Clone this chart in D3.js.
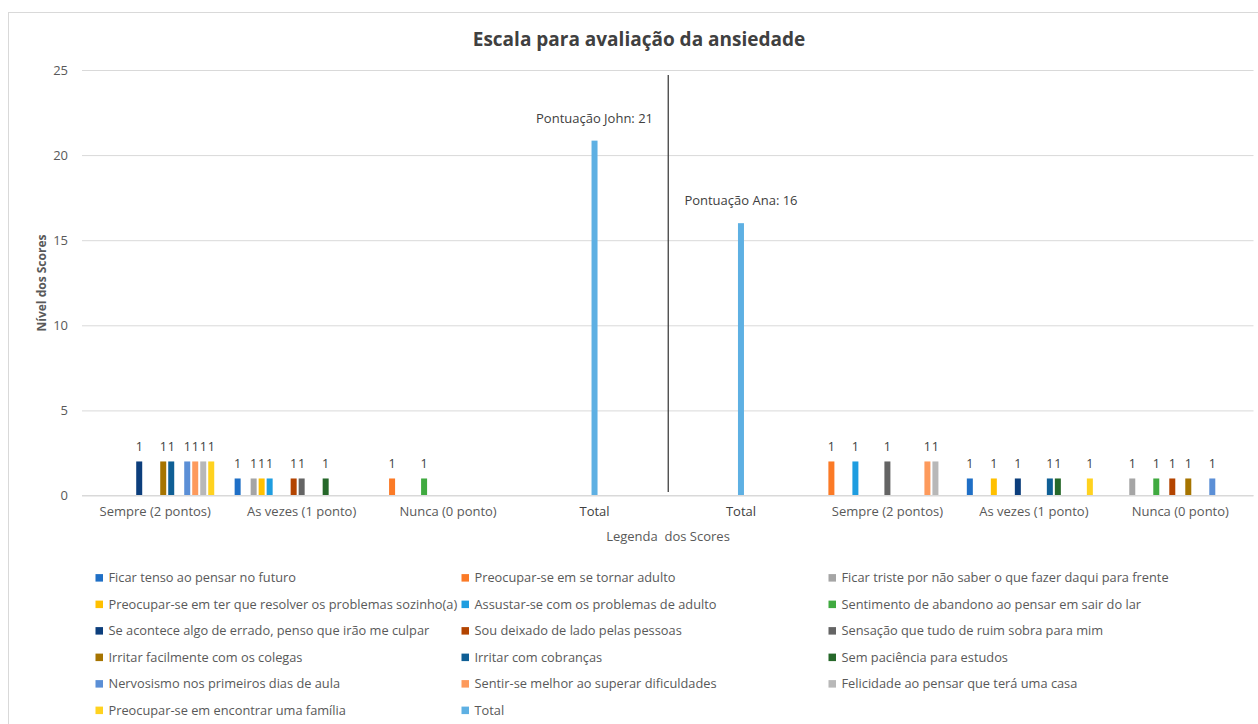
<!DOCTYPE html>
<html>
<head>
<meta charset="utf-8">
<script src="https://cdnjs.cloudflare.com/ajax/libs/d3/7.8.5/d3.min.js"></script>
<style>
body { margin: 0; background: #fff; }
text { font-family: "Open Sans", sans-serif; fill: #595959; }
</style>
</head>
<body>
<svg id="chart" width="1258" height="724"></svg>
<script>

var categories = ['Sempre (2 pontos)', 'As vezes (1 ponto)', 'Nunca (0 ponto)', 'Total',
                  'Total', 'Sempre (2 pontos)', 'As vezes (1 ponto)', 'Nunca (0 ponto)'];

var seriesNames = [
    'Ficar tenso ao pensar no futuro',
    'Preocupar-se em se tornar adulto',
    'Ficar triste por não saber o que fazer daqui para frente',
    'Preocupar-se em ter que resolver os problemas sozinho(a)',
    'Assustar-se com os problemas de adulto',
    'Sentimento de abandono ao pensar em sair do lar',
    'Se acontece algo de errado, penso que irão me culpar',
    'Sou deixado de lado pelas pessoas',
    'Sensação que tudo de ruim sobra para mim',
    'Irritar facilmente com os colegas',
    'Irritar com cobranças',
    'Sem paciência para estudos',
    'Nervosismo nos primeiros dias de aula',
    'Sentir-se melhor ao superar dificuldades',
    'Felicidade ao pensar que terá uma casa',
    'Preocupar-se em encontrar uma família',
    'Total'
];

var seriesColors = ['#1f6fc6', '#fb7a26', '#a5a5a5', '#ffc000', '#1e9de0', '#40aa40',
                    '#0c3e7c', '#b34400', '#646464', '#a67400', '#0f5f95', '#26682a',
                    '#5b8fd6', '#fd9a5c', '#b8b8b8', '#ffd21f', '#5eb0e3'];

// one array per series, one value per category (null = no bar)
var s01 = [null, 1, null, null, null, null, 1, null];
var s02 = [null, null, 1, null, null, 2, null, null];
var s03 = [null, 1, null, null, null, null, null, 1];
var s04 = [null, 1, null, null, null, null, 1, null];
var s05 = [null, 1, null, null, null, 2, null, null];
var s06 = [null, null, 1, null, null, null, null, 1];
var s07 = [2, null, null, null, null, null, 1, null];
var s08 = [null, 1, null, null, null, null, null, 1];
var s09 = [null, 1, null, null, null, 2, null, null];
var s10 = [2, null, null, null, null, null, null, 1];
var s11 = [2, null, null, null, null, null, 1, null];
var s12 = [null, 1, null, null, null, null, 1, null];
var s13 = [2, null, null, null, null, null, null, 1];
var s14 = [2, null, null, null, null, 2, null, null];
var s15 = [2, null, null, null, null, 2, null, null];
var s16 = [2, null, null, null, null, null, 1, null];
var s17 = [null, null, null, 20.85, 16, null, null, null];

var seriesValues = [s01, s02, s03, s04, s05, s06, s07, s08, s09,
                    s10, s11, s12, s13, s14, s15, s16, s17];

// data label shown over every item bar (each item counted once)
var itemCount = 1;
var totalLabels = ['Pontuação John: 21', 'Pontuação Ana: 16'];
var yTicks = [0, 5, 10, 15, 20, 25];

var TOTAL = 16;

var svg = d3.select('#chart');

// chart border
svg.append('rect')
    .attr('x', 8.5).attr('y', 12.5)
    .attr('width', 1300).attr('height', 800)
    .style('fill', 'none')
    .style('stroke', '#d9d9d9');

var plot = { left: 82, right: 1253.5, top: 70, bottom: 495.5 };

var x = d3.scaleBand()
    .domain(d3.range(categories.length))
    .range([plot.left, plot.right]);

var xs = d3.scaleBand()
    .domain(d3.range(seriesNames.length))
    .range([0, x.bandwidth()])
    .paddingInner(0.25)
    .paddingOuter(0.775);

var y = d3.scaleLinear()
    .domain([0, 25])
    .range([plot.bottom, plot.top]);

// gridlines
var grid = svg.append('g')
    .attr('transform', 'translate(' + plot.left + ',0)')
    .call(d3.axisLeft(y).tickValues(yTicks).tickSize(-(plot.right - plot.left)).tickFormat(''));
grid.select('.domain').remove();
grid.selectAll('line').style('stroke', '#d9d9d9');

// y labels
var yAxis = svg.append('g')
    .attr('transform', 'translate(' + plot.left + ',0)')
    .call(d3.axisLeft(y).tickValues(yTicks).tickSize(0).tickPadding(14));
yAxis.select('.domain').remove();
yAxis.selectAll('text')
    .style('font-size', '13px')
    .style('fill', '#595959');

// x labels
var xAxis = svg.append('g')
    .attr('transform', 'translate(0,' + plot.bottom + ')')
    .call(d3.axisBottom(x).tickSize(0).tickPadding(11).tickFormat(function(d) {
        return categories[d];
    }));
xAxis.select('.domain').remove();
xAxis.selectAll('text')
    .style('font-size', '13px')
    .style('fill', function(d) {
        return categories[d] === 'Total' ? '#404040' : '#595959';
    });

// flatten to bars
var bars = [];
for (var i = 0; i < seriesValues.length; i++) {
    for (var j = 0; j < categories.length; j++) {
        if (seriesValues[i][j] === null) { continue; }
        bars.push({ s: i, c: j, val: seriesValues[i][j] });
    }
}

function barX(d) {
    if (d.s === TOTAL) {
        return x(d.c) + (x.bandwidth() - xs.bandwidth()) / 2;
    }
    return x(d.c) + xs(d.s);
}

svg.append('g').selectAll('rect')
    .data(bars)
    .enter().append('rect')
        .attr('x', barX)
        .attr('y', function(d) { return y(d.val); })
        .attr('width', xs.bandwidth())
        .attr('height', function(d) { return y(0) - y(d.val); })
        .style('fill', function(d) { return seriesColors[d.s]; });

// data labels
svg.append('g').selectAll('text')
    .data(bars)
    .enter().append('text')
        .attr('x', function(d) { return barX(d) + xs.bandwidth() / 2; })
        .attr('y', function(d) { return y(d.val) - (d.s === TOTAL ? 18 : 10); })
        .attr('text-anchor', 'middle')
        .style('font-size', function(d) { return d.s === TOTAL ? '13px' : '12.5px'; })
        .style('fill', '#404040')
        .text(function(d) {
            if (d.s === TOTAL) {
                return d.c === 3 ? totalLabels[0] : totalLabels[1];
            }
            return itemCount;
        });

// axis baseline
svg.append('line')
    .attr('x1', plot.left).attr('x2', plot.right)
    .attr('y1', y(0)).attr('y2', y(0))
    .style('stroke', '#d9d9d9');

// separator between John and Ana
svg.append('line')
    .attr('x1', x(4) + 0.5).attr('x2', x(4) + 0.5)
    .attr('y1', y(24.7)).attr('y2', y(0.2))
    .style('stroke', '#404040')
    .style('stroke-width', 1.3);

// titles
svg.append('text')
    .attr('x', 639).attr('y', 46)
    .attr('text-anchor', 'middle')
    .style('font-size', '19px')
    .style('font-weight', 'bold')
    .style('fill', '#404040')
    .text('Escala para avaliação da ansiedade');

svg.append('text')
    .attr('transform', 'translate(46,283) rotate(-90)')
    .attr('text-anchor', 'middle')
    .style('font-size', '12px')
    .style('font-weight', 'bold')
    .text('Nível dos Scores');

svg.append('text')
    .attr('x', 668).attr('y', 541)
    .attr('text-anchor', 'middle')
    .style('font-size', '13px')
    .attr('xml:space', 'preserve')
    .style('white-space', 'pre')
    .text('Legenda  dos Scores');

// legend, 3 columns
var colX = [95.5, 461.5, 828.5];
var legend = svg.append('g').selectAll('g')
    .data(seriesNames)
    .enter().append('g')
        .attr('transform', function(d, i) {
            return 'translate(' + colX[i % 3] + ', ' + (577.6 + Math.floor(i / 3) * 26.5) + ')';
        });

legend.append('rect')
    .attr('x', 0).attr('y', -3.5)
    .attr('width', 7.5).attr('height', 7.5)
    .style('fill', function(d, i) { return seriesColors[i]; });

legend.append('text')
    .attr('x', 13)
    .attr('dy', '.35em')
    .style('font-size', '12.8px')
    .text(function(d) { return d; });

</script>
</body>
</html>
